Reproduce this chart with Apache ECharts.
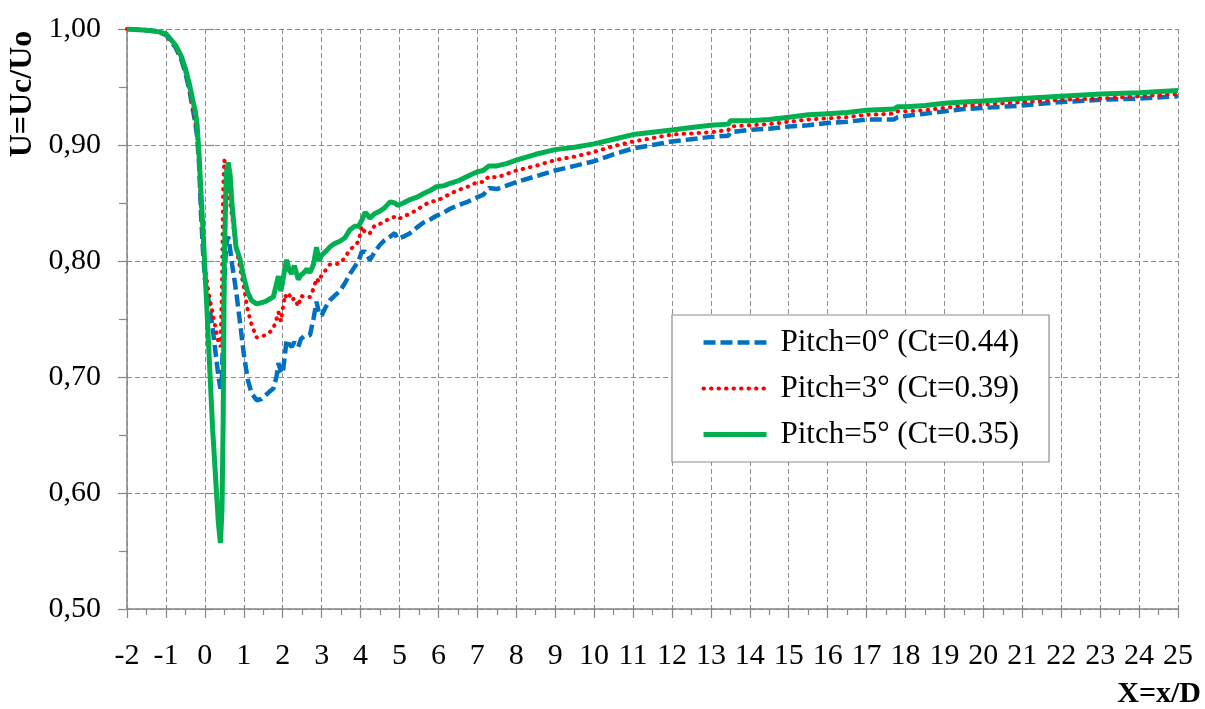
<!DOCTYPE html>
<html>
<head>
<meta charset="utf-8">
<title>Centreline velocity deficit</title>
<script src="https://cdn.jsdelivr.net/npm/echarts@6/dist/echarts.min.js"></script>
<style>
  html, body { margin: 0; padding: 0; background: #ffffff; }
  #chart { width: 1205px; height: 709px; }
</style>
</head>
<body>
<div id="chart"></div>
<script>
// Streamwise position X = x/D
const xPos = [
  -2, -1.5, -1.25, -1, -0.75, -0.6, -0.5, -0.4, -0.3, -0.25, -0.2, -0.15, -0.1, -0.05,
  0, 0.1, 0.2, 0.3, 0.35, 0.4, 0.44, 0.47, 0.5, 0.55, 0.6, 0.65, 0.7, 0.8, 0.9, 1.0, 1.1, 1.2, 1.33,
  1.45, 1.55, 1.65, 1.76, 1.84, 1.89, 1.95, 2.0, 2.06, 2.1, 2.17, 2.23, 2.3, 2.4, 2.47, 2.55, 2.62, 2.7, 2.79, 2.87, 2.93,
  3.0, 3.1, 3.21, 3.33, 3.47, 3.6, 3.73, 3.85, 3.95, 4.03, 4.12, 4.24, 4.37, 4.5, 4.62, 4.76, 4.88, 4.95,
  5.1, 5.27, 5.45, 5.61, 5.8, 5.95, 6.15, 6.3, 6.5, 6.75, 7.0, 7.15, 7.3, 7.5, 7.75, 8.0,
  8.5, 9, 9.5, 10, 10.5, 11, 11.5, 12, 12.5, 13, 13.45, 13.5, 14, 14.5, 15, 15.5, 16, 16.5, 17, 17.7, 17.8, 18, 18.5, 19, 19.5, 20, 21, 22, 23, 24, 25
];

// U = Uc/Uo, pitch 0 deg (Ct = 0.44)
const uPitch0 = [
  1.0, 0.999, 0.998, 0.995, 0.984, 0.973, 0.962, 0.948, 0.929, 0.92, 0.908, 0.885, 0.842, 0.81,
  0.785, 0.765, 0.742, 0.714, 0.70, 0.69, 0.70, 0.74, 0.785, 0.815, 0.821, 0.81, 0.797, 0.775, 0.748, 0.72, 0.698, 0.686, 0.68,
  0.681, 0.684, 0.687, 0.690, 0.700, 0.712, 0.705, 0.703, 0.720, 0.732, 0.728, 0.726, 0.730, 0.726, 0.733, 0.735, 0.735, 0.736, 0.750, 0.765, 0.755,
  0.753, 0.760, 0.766, 0.770, 0.774, 0.781, 0.789, 0.795, 0.800, 0.808, 0.808, 0.801, 0.808, 0.814, 0.818, 0.821, 0.824, 0.819,
  0.821, 0.824, 0.829, 0.833, 0.836, 0.839, 0.842, 0.845, 0.848, 0.851, 0.855, 0.857, 0.863, 0.862, 0.865, 0.868,
  0.873, 0.878, 0.882, 0.886, 0.892, 0.897, 0.900, 0.903, 0.905, 0.907, 0.908, 0.911, 0.913, 0.914, 0.916, 0.917, 0.919, 0.920, 0.922, 0.922, 0.924, 0.925, 0.927, 0.929, 0.931, 0.932, 0.934, 0.937, 0.939, 0.940, 0.942
];

// U = Uc/Uo, pitch 3 deg (Ct = 0.39)
const uPitch3 = [
  1.0, 0.999, 0.998, 0.995, 0.985, 0.974, 0.963, 0.949, 0.93, 0.921, 0.91, 0.888, 0.848, 0.817,
  0.795, 0.772, 0.755, 0.738, 0.73, 0.726, 0.78, 0.86, 0.887, 0.878, 0.862, 0.85, 0.838, 0.812, 0.795, 0.778, 0.758, 0.745, 0.734,
  0.735, 0.736, 0.738, 0.742, 0.750, 0.756, 0.748, 0.749, 0.771, 0.768, 0.771, 0.766, 0.768, 0.761, 0.770, 0.769, 0.769, 0.769, 0.776, 0.785, 0.782,
  0.788, 0.792, 0.797, 0.797, 0.798, 0.803, 0.810, 0.813, 0.817, 0.830, 0.824, 0.824, 0.831, 0.832, 0.834, 0.837, 0.838, 0.836,
  0.838, 0.841, 0.844, 0.848, 0.851, 0.852, 0.855, 0.858, 0.861, 0.864, 0.868, 0.868, 0.873, 0.872, 0.875, 0.878,
  0.882, 0.887, 0.890, 0.894, 0.899, 0.903, 0.906, 0.909, 0.910, 0.911, 0.913, 0.916, 0.917, 0.918, 0.920, 0.922, 0.923, 0.924, 0.926, 0.927, 0.929, 0.929, 0.930, 0.932, 0.934, 0.935, 0.937, 0.939, 0.940, 0.942, 0.944
];

// U = Uc/Uo, pitch 5 deg (Ct = 0.35)
const uPitch5 = [
  1.0, 0.999, 0.998, 0.996, 0.986, 0.976, 0.966, 0.953, 0.937, 0.93, 0.918, 0.892, 0.86, 0.828,
  0.795, 0.725, 0.655, 0.60, 0.573, 0.557, 0.585, 0.66, 0.80, 0.875, 0.885, 0.874, 0.848, 0.812, 0.802, 0.786, 0.773, 0.766, 0.763,
  0.764, 0.765, 0.767, 0.769, 0.780, 0.787, 0.774, 0.782, 0.795, 0.801, 0.792, 0.789, 0.796, 0.784, 0.788, 0.790, 0.793, 0.790, 0.797, 0.812, 0.800,
  0.805, 0.808, 0.812, 0.815, 0.817, 0.820, 0.827, 0.830, 0.830, 0.835, 0.842, 0.837, 0.841, 0.843, 0.846, 0.851, 0.850, 0.848,
  0.850, 0.853, 0.855, 0.858, 0.861, 0.864, 0.865, 0.867, 0.869, 0.873, 0.877, 0.878, 0.882, 0.882, 0.884, 0.887,
  0.892, 0.896, 0.898, 0.901, 0.905, 0.909, 0.911, 0.913, 0.915, 0.917, 0.918, 0.921, 0.921, 0.922, 0.924, 0.926, 0.927, 0.928, 0.930, 0.931, 0.933, 0.933, 0.934, 0.936, 0.937, 0.938, 0.940, 0.942, 0.944, 0.945, 0.947
];

const seriesNames = ['Pitch=0° (Ct=0.44)', 'Pitch=3° (Ct=0.39)', 'Pitch=5° (Ct=0.35)'];

const SERIF = "'Liberation Serif', 'Times New Roman', serif";
const AXIS_GREY = '#868686';
const GRID_GREY = '#8c8c8c';

// line looks shared by each series and its legend entry
const styles = [
  { color: '#0070C0', width: 4.5, type: [12, 5], cap: 'butt' },
  { color: '#FF0000', width: 4, type: [0.5, 7], cap: 'round' },
  { color: '#00B050', width: 5, type: 'solid', cap: 'butt' }
];

const pairs = ys => xPos.map((x, i) => [x, ys[i]]);

const chart = echarts.init(document.getElementById('chart'), null, { renderer: 'canvas' });

chart.setOption({
  animation: false,
  backgroundColor: '#ffffff',
  grid: { left: 127, top: 29, right: 27, bottom: 100, containLabel: false },
  xAxis: [{
    type: 'value', min: -2, max: 25, interval: 1,
    axisLine: { show: true, onZero: false, lineStyle: { color: AXIS_GREY, width: 1.5 } },
    axisTick: { show: true, length: 9, lineStyle: { color: AXIS_GREY, width: 1.2 } },
    minorTick: { show: true, splitNumber: 2, length: 6, lineStyle: { color: AXIS_GREY, width: 1.2 } },
    axisLabel: { fontFamily: SERIF, fontSize: 30, color: '#000', margin: 32,
                 formatter: v => String(v) },
    splitLine: { show: true, lineStyle: { color: GRID_GREY, width: 1, type: [5, 3] } }
  }, {
    // inner half of the major ticks
    type: 'value', min: -2, max: 25, interval: 1, position: 'bottom',
    axisLine: { show: false },
    axisTick: { show: true, inside: true, length: 4, lineStyle: { color: AXIS_GREY, width: 1.2 } },
    axisLabel: { show: false }, splitLine: { show: false }
  }],
  yAxis: [{
    type: 'value', min: 0.5, max: 1.0, interval: 0.1,
    axisLine: { show: true, onZero: false, lineStyle: { color: AXIS_GREY, width: 1.5 } },
    axisTick: { show: true, length: 9, lineStyle: { color: AXIS_GREY, width: 1.2 } },
    minorTick: { show: true, splitNumber: 2, length: 8, lineStyle: { color: AXIS_GREY, width: 1.2 } },
    axisLabel: { fontFamily: SERIF, fontSize: 30, color: '#000', margin: 26,
                 formatter: v => v.toFixed(2).replace('.', ',') },
    splitLine: { show: true, lineStyle: { color: GRID_GREY, width: 1, type: [5, 3] } }
  }, {
    type: 'value', min: 0.5, max: 1.0, interval: 0.1, position: 'left', offset: 0,
    axisLine: { show: false },
    axisTick: { show: true, inside: true, length: 9, lineStyle: { color: AXIS_GREY, width: 1.2 } },
    axisLabel: { show: false }, splitLine: { show: false }
  }],
  legend: {
    data: seriesNames.map((name, i) => ({ name, lineStyle: Object.assign({}, styles[i]) })),
    orient: 'vertical',
    left: 672, top: 315,
    padding: [12, 30, 12, 29],
    itemGap: 15,
    itemWidth: 63, itemHeight: 30,
    backgroundColor: '#ffffff',
    borderColor: '#8c8c8c', borderWidth: 1.2, borderRadius: 0,
    itemStyle: { opacity: 0 },
    textStyle: { fontFamily: SERIF, fontSize: 31, color: '#000', padding: [0, 0, 0, 9], lineHeight: 30 }
  },
  series: [uPitch0, uPitch3, uPitch5].map((ys, i) => ({
    name: seriesNames[i], type: 'line', data: pairs(ys),
    xAxisIndex: 0, yAxisIndex: 0,
    symbol: 'none', smooth: false, z: 3 + i,
    lineStyle: Object.assign({}, styles[i]),
    itemStyle: { color: styles[i].color }
  })),
  graphic: [{
    type: 'text', x: 23, y: 94, rotation: Math.PI / 2,
    style: { text: 'U=Uc/Uo', font: 'bold 32px ' + SERIF, fill: '#000',
             textAlign: 'center', textVerticalAlign: 'middle' }
  }, {
    type: 'text', x: 1201, y: 694,
    style: { text: 'X=x/D', font: 'bold 30px ' + SERIF, fill: '#000',
             textAlign: 'right', textVerticalAlign: 'middle' }
  }]
});
</script>
</body>
</html>
